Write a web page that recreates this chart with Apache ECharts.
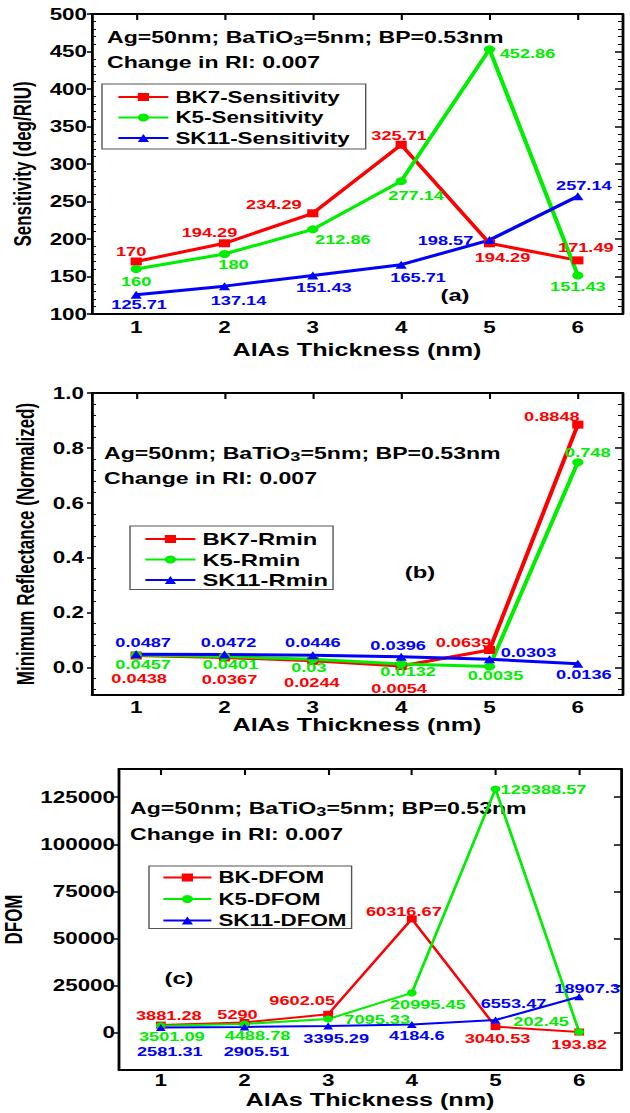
<!DOCTYPE html>
<html>
<head>
<meta charset="utf-8">
<title>AlAs thickness sweep</title>
<script src="https://cdn.jsdelivr.net/npm/echarts@6.0.0/dist/echarts.min.js"></script>
<style>
  html, body { margin: 0; padding: 0; background: #fff; overflow: hidden; }
  /* the source figure is stretched sideways: draw narrow, then widen */
  #chart { width: 450px; height: 1113px; transform: scaleX(1.4); transform-origin: 0 0; }
</style>
</head>
<body>
<div id="chart"></div>
<script>
// AlAs thickness (nm)
var thickness = ['1', '2', '3', '4', '5', '6'];

// (a) sensitivity, deg/RIU
var bk7Sens  = [170, 194.29, 234.29, 325.71, 194.29, 171.49];
var k5Sens   = [160, 180, 212.86, 277.14, 452.86, 151.43];
var sk11Sens = [125.71, 137.14, 151.43, 165.71, 198.57, 257.14];

// (b) minimum reflectance
var bk7Rmin  = [0.0438, 0.0367, 0.0244, 0.0054, 0.0639, 0.8848];
var k5Rmin   = [0.0457, 0.0401, 0.03, 0.0132, 0.0035, 0.748];
var sk11Rmin = [0.0487, 0.0472, 0.0446, 0.0396, 0.0303, 0.0136];

// (c) DFOM
var bkDfom   = [3881.28, 5290, 9602.05, 60316.67, 3040.53, 193.82];
var k5Dfom   = [3501.09, 4488.78, 7095.33, 20995.45, 129388.57, 202.45];
var sk11Dfom = [2581.31, 2905.51, 3395.29, 4184.6, 6553.47, 18907.3];

// y tick labels
var ticksA = [100, 150, 200, 250, 300, 350, 400, 450, 500];
var ticksB = [0, 0.2, 0.4, 0.6, 0.8, 1.0];
var ticksC = [0, 25000, 50000, 75000, 100000, 125000];

var SX = 1.4;
function u(px) { return px / SX; }
var FONT = '"Liberation Sans", Arial, sans-serif';
var RED = '#ff0000', GREEN = '#00ee00', BLUE = '#0000ff';

// where each value label sits relative to its point, picture pixels [dx, dy]
var offA = {
  bk7:  [[-5, -10], [-15, -11], [-39, -9], [-2, -9], [13, 14], [8, -13]],
  k5:   [[0, 12], [9, 10], [30, 10], [15, 14], [38, 4], [0, 11]],
  sk11: [[3, 10], [14, 14], [11, 12], [17, 13], [-44, 0], [6, -11]]
};
var offB = {
  bk7:  [[3, 23], [5, 22], [-1, 22], [-2, 22], [-26, -8], [-26, -8]],
  k5:   [[7, 9], [6, 8], [-4, 8], [7, 8], [6, 9], [10, -10]],
  sk11: [[7, -12], [4, -12], [0, -13], [-3, -11], [39, -7], [6, 11]]
};
var offC = {
  bk:   [[8, -10], [-7, -8], [-26, -14], [-8, -7], [2, 12], [0, 12]],
  k5:   [[11, 11], [13, 12], [49, 0], [16, 12], [48, 1], [-38, -11]],
  sk11: [[9, 24], [12, 25], [8, 12], [5, 11], [18, -17], [8, -8]]
};

function minorTicks(from, to, step, every) {
  var out = [];
  for (var k = 0; from + k * step <= to + 1e-9; k++) {
    if (k % every) out.push(+(from + k * step).toFixed(6));
  }
  return out;
}

var grids = [], xAxes = [], yAxes = [], series = [], legends = [], graphics = [];

function boxAxes(p) {
  var gi = grids.length;
  grids.push({ left: u(p.left), top: p.top, width: u(p.right - p.left), height: p.bottom - p.top, outerBoundsMode: 'none' });
  var axisLine = { show: true, onZero: false, lineStyle: { color: '#000', width: 2 } };
  var xi = xAxes.length;
  xAxes.push({
    type: 'category', gridIndex: gi, position: 'bottom', data: thickness,
    axisLine: axisLine, axisTick: { show: false },
    axisLabel: { interval: 0, margin: p.xLabelMargin, color: '#000', fontSize: 16, fontWeight: 'bold', fontFamily: FONT },
    name: 'AlAs Thickness (nm)', nameLocation: 'middle', nameGap: p.xNameGap,
    nameTextStyle: { color: '#000', fontSize: 18, fontWeight: 'bold', fontFamily: FONT }
  }, {
    type: 'category', gridIndex: gi, position: 'top', data: thickness,
    axisLine: axisLine,
    axisTick: { show: true, interval: 0, inside: true, alignWithLabel: true, length: 6, lineStyle: { color: '#000', width: 1.5 } },
    axisLabel: { show: false }
  });
  var yi = yAxes.length;
  var range = { type: 'value', gridIndex: gi, min: p.min, max: p.max, splitLine: { show: false } };
  yAxes.push(Object.assign({}, range, {
    position: 'left', axisLine: axisLine,
    axisTick: { show: true, length: u(5), customValues: p.ticks, lineStyle: { color: '#000', width: 1.5 } },
    axisLabel: { customValues: p.ticks, formatter: p.fmt, margin: u(p.yLabelMargin),
      color: '#000', fontSize: 16, fontWeight: 'bold', fontFamily: FONT },
    name: p.yName, nameLocation: 'middle', nameGap: p.yNameGap, nameRotate: 90,
    nameTextStyle: { color: '#000', fontSize: 17, fontWeight: 'bold', fontFamily: FONT }
  }), Object.assign({}, range, {
    position: 'right', axisLine: axisLine,
    axisTick: { show: true, inside: true, length: u(7), customValues: p.ticks, lineStyle: { color: '#000', width: 1.5 } },
    axisLabel: { show: false }
  }));
  if (p.minors) {
    ['left', 'right'].forEach(function (side) {
      yAxes.push(Object.assign({}, range, {
        position: side, axisLine: { show: false, onZero: false },
        axisTick: { show: true, inside: true, length: u(4), customValues: p.minors, lineStyle: { color: '#000', width: 1 } },
        axisLabel: { show: false }
      }));
    });
  }
  return { x: xi, y: yi };
}

function addLine(ax, name, values, offs, color, symbol, size, width) {
  series.push({
    name: name, type: 'line', xAxisIndex: ax.x, yAxisIndex: ax.y,
    data: values.map(function (v, i) {
      return { value: v, label: { offset: [u(offs[i][0]), offs[i][1]] } };
    }),
    symbol: symbol, symbolSize: size, showAllSymbol: true,
    lineStyle: { color: color, width: width }, itemStyle: { color: color },
    label: { show: true, position: 'inside', color: color, fontSize: 13, lineHeight: 12,
      fontWeight: 'bold', fontFamily: FONT },
    emphasis: { disabled: true }
  });
}

function addLegend(names, left, top, padding, itemWidth, itemGap, fontSize) {
  legends.push({
    data: names, orient: 'vertical', left: u(left), top: top, padding: padding,
    itemWidth: u(itemWidth), itemHeight: 10, itemGap: itemGap, selectedMode: false,
    borderColor: '#555', borderWidth: 1,
    textStyle: { color: '#000', fontSize: fontSize, fontWeight: 'bold', fontFamily: FONT }
  });
}

function addNote(x, y1, y2, size) {
  graphics.push({
    type: 'text', x: u(x), y: y1,
    style: {
      text: '{m|Ag=50nm; BaTiO}{s|3}{m|=5nm; BP=0.53nm}', verticalAlign: 'middle',
      rich: {
        m: { fontSize: size, fontWeight: 'bold', fontFamily: FONT, fill: '#000', lineHeight: 20, verticalAlign: 'middle' },
        s: { fontSize: 13, fontWeight: 'bold', fontFamily: FONT, fill: '#000', lineHeight: 13, verticalAlign: 'bottom' }
      }
    }
  }, {
    type: 'text', x: u(x), y: y2,
    style: { text: 'Change in RI: 0.007', fill: '#000', font: 'bold ' + size + 'px ' + FONT, verticalAlign: 'middle' }
  });
}

function addTag(text, x, y) {
  graphics.push({
    type: 'text', x: u(x), y: y,
    style: { text: text, fill: '#000', font: 'bold 17px ' + FONT, align: 'center', verticalAlign: 'middle' }
  });
}

// (a)
var axA = boxAxes({
  left: 92, right: 622, top: 14, bottom: 314, min: 100, max: 500,
  ticks: ticksA, minors: minorTicks(100, 500, 10, 5), fmt: function (v) { return String(v); },
  yName: 'Sensitivity (deg/RIU)', yNameGap: 38, yLabelMargin: 5, xLabelMargin: 5, xNameGap: 27
});
addLine(axA, 'BK7-Sensitivity', bk7Sens, offA.bk7, RED, 'rect', 8, 3);
addLine(axA, 'K5-Sensitivity', k5Sens, offA.k5, GREEN, 'circle', 8, 3);
addLine(axA, 'SK11-Sensitivity', sk11Sens, offA.sk11, BLUE, 'triangle', 8, 3);
addLegend(['BK7-Sensitivity', 'K5-Sensitivity', 'SK11-Sensitivity'], 102, 84, [5, u(16), 3, u(15)], 50, 4.5, 16);
addNote(107, 37, 62, 16.5);
addTag('(a)', 455, 295);

// (b)
var axB = boxAxes({
  left: 92, right: 622, top: 393, bottom: 695, min: -0.1, max: 1.0,
  ticks: ticksB, minors: minorTicks(-0.2, 1.0, 0.04, 5), fmt: function (v) { return v.toFixed(1); },
  yName: 'Minimum Reflectance (Normalized)', yNameGap: 36, yLabelMargin: 8, xLabelMargin: 4, xNameGap: 18
});
addLine(axB, 'BK7-Rmin', bk7Rmin, offB.bk7, RED, 'rect', 8, 3);
addLine(axB, 'K5-Rmin', k5Rmin, offB.k5, GREEN, 'circle', 8, 3);
addLine(axB, 'SK11-Rmin', sk11Rmin, offB.sk11, BLUE, 'triangle', 8, 3);
addLegend(['BK7-Rmin', 'K5-Rmin', 'SK11-Rmin'], 130, 526, [4.5, u(5), 1, u(14)], 50, 3.5, 17);
addNote(104, 453, 478, 16.5);
addTag('(b)', 420, 572);

// (c)
var axC = boxAxes({
  left: 119, right: 621, top: 769, bottom: 1070, min: -20000, max: 140000,
  ticks: ticksC, minors: null, fmt: function (v) { return String(v); },
  yName: 'DFOM', yNameGap: 60, yLabelMargin: 4, xLabelMargin: 2, xNameGap: 21
});
addLine(axC, 'BK-DFOM', bkDfom, offC.bk, RED, 'rect', 7, 2);
addLine(axC, 'K5-DFOM', k5Dfom, offC.k5, GREEN, 'circle', 7, 2);
addLine(axC, 'SK11-DFOM', sk11Dfom, offC.sk11, BLUE, 'triangle', 7, 2);
addLegend(['BK-DFOM', 'K5-DFOM', 'SK11-DFOM'], 149, 866, [3.5, u(5), 0, u(13)], 48, 5.5, 16);
addNote(130, 808, 834, 16.5);
addTag('(c)', 179, 978);

var chart = echarts.init(document.getElementById('chart'), null, { renderer: 'svg' });
chart.setOption({
  animation: false,
  backgroundColor: '#fff',
  textStyle: { fontFamily: FONT },
  grid: grids,
  xAxis: xAxes,
  yAxis: yAxes,
  legend: legends,
  series: series,
  graphic: graphics
});
</script>
</body>
</html>
